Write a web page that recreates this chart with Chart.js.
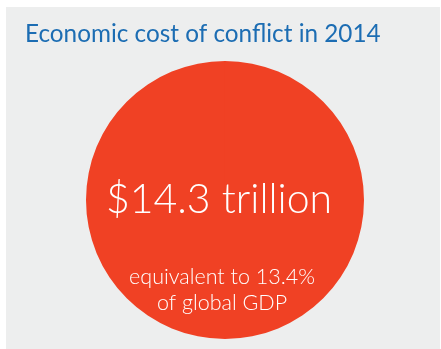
<!DOCTYPE html>
<html>
<head>
<meta charset="utf-8">
<script src="https://cdn.jsdelivr.net/npm/chart.js@4"></script>
<style>
  body { margin: 0; background: #ffffff; }
  #panel { position: absolute; left: 6px; top: 7px; width: 434px; height: 342px; background: #edeeee; }
  #panel canvas { display: block; }
</style>
</head>
<body>
<div id="panel"><canvas id="costChart" width="434" height="342"></canvas></div>

<script>
    // chart data
    const titleText = 'Economic cost of conflict in 2014';
    const categories = ['Economic cost of conflict'];
    const costValues = [14.3];          // trillion US$
    const headline = '$14.3 trillion';
    const subLines = ['equivalent to 13.4%', 'of global GDP'];

    // draws the title and the texts inside the circle
    const labelPlugin = {
        id: 'labels',
        afterDraw(chart) {
            const ctx = chart.ctx;
            const arc = chart.getDatasetMeta(0).data[0];
            const cx = arc.x, cy = arc.y;
            ctx.save();
            ctx.textBaseline = 'alphabetic';

            ctx.fillStyle = '#1c6db3';
            ctx.font = '400 24.3px Lato';
            ctx.textAlign = 'left';
            ctx.fillText(titleText, 19, 35);

            ctx.fillStyle = '#ffffff';
            ctx.textAlign = 'center';
            ctx.font = '300 41px Lato';
            ctx.fillText(headline, cx - 6, cy + 13);

            ctx.font = '300 21.5px Lato';
            subLines.forEach((line, i) => {
                ctx.fillText(line, cx - 3, cy + 84 + i * 26);
            });
            ctx.restore();
        }
    };

    new Chart(document.getElementById('costChart'), {
        type: 'pie',
        data: {
            labels: categories,
            datasets: [{
                data: costValues,
                backgroundColor: '#f04124',
                borderWidth: 0,
                hoverOffset: 0,
                offset: 0
            }]
        },
        options: {
            responsive: false,
            animation: false,
            events: [],
            layout: { padding: { left: 80, right: 76, top: 54, bottom: 10 } },
            plugins: {
                legend: { display: false },
                tooltip: { enabled: false }
            }
        },
        plugins: [labelPlugin]
    });
</script>
</body>
</html>
